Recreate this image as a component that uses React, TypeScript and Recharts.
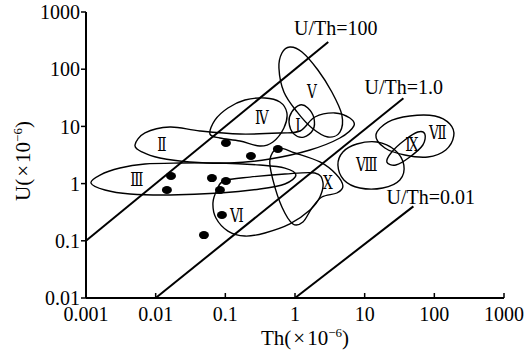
import { ComposedChart, Line, Scatter, XAxis, YAxis } from "recharts";

const SERIF = "'Liberation Serif', 'Times New Roman', serif";
const ROMAN = "'Liberation Serif', 'DejaVu Serif', 'Noto Sans CJK SC', serif";

const xTicks = [0.001, 0.01, 0.1, 1, 10, 100, 1000];
const xTickLabels = ["0.001", "0.01", "0.1", "1", "10", "100", "1000"];
const yTicks = [0.01, 0.1, 1, 10, 100, 1000];
const yTickLabels = ["0.01", "0.1", "1", "10", "100", "1000"];

// measured samples (Th, U in 10^-6)
const sampleTh = [0.0166, 0.0145, 0.0642, 0.102, 0.0837, 0.0894, 0.0493, 0.102, 0.233, 0.568];
const sampleU = [1.36, 0.773, 1.25, 1.11, 0.773, 0.282, 0.126, 5.13, 3.04, 4.03];

// U/Th reference lines, [Th, U] end points
const ratio100 = [[0.001, 0.1], [3, 300]];
const ratio1 = [[0.01, 0.01], [36, 31]];
const ratio001 = [[1, 0.01], [50, 0.4]];
const ratioLabels = ["U/Th=100", "U/Th=1.0", "U/Th=0.01"];
const ratioLabelPos = [[3.86, 525], [36.5, 48.8], [89.1, 0.583]];

// field outlines, [Th, U]
const fieldI = [[1.18, 23.7], [0.9, 17.9], [0.82, 11.9], [0.96, 7.4], [1.34, 6.5], [1.81, 8.7], [1.87, 14], [1.53, 21]];
const fieldII = [[0.00505, 4.73], [0.00702, 7.67], [0.016, 9.76], [0.0432, 8.31], [0.162, 7.36], [0.607, 7.67], [1.18, 8.31], [1.93, 14.6], [3.74, 17.2], [6.13, 14], [7, 10.2], [4.41, 6.27], [1.64, 3.87], [0.436, 2.69], [0.116, 2.29], [0.031, 2.39], [0.0115, 2.8], [0.00636, 3.57]];
const fieldIII = [[0.00118, 1.02], [0.00159, 1.41], [0.00307, 1.87], [0.00702, 2.2], [0.0223, 2.29], [0.0837, 2.29], [0.313, 2.11], [0.716, 1.87], [1.03, 1.41], [0.716, 0.984], [0.313, 0.805], [0.0837, 0.685], [0.016, 0.632], [0.00428, 0.658], [0.00187, 0.773]];
const fieldIV = [[0.0601, 7.36], [0.0709, 12.9], [0.109, 21], [0.191, 28.9], [0.37, 31.4], [0.607, 26.7], [0.765, 17.2], [0.693, 9.38], [0.482, 5.34], [0.313, 4.54], [0.162, 5.56], [0.0837, 6.27]];
const fieldV = [[0.845, 244], [1.26, 200], [2.13, 96.8], [3.38, 39.9], [4.71, 15.8], [4.41, 7.98], [2.97, 6.53], [1.75, 9.38], [1.07, 17.9], [0.693, 39.9], [0.588, 105], [0.649, 192]];
const fieldVI = [[0.0955, 1.11], [0.225, 1.3], [0.716, 1.47], [1.93, 1.53], [2.51, 1.07], [2.28, 0.583], [1.64, 0.345], [0.845, 0.197], [0.37, 0.137], [0.191, 0.121], [0.109, 0.148], [0.0733, 0.25], [0.0664, 0.458], [0.0758, 0.773]];
const fieldVII = [[14.5, 7.07], [21.5, 11.9], [44.5, 15.2], [102, 15.2], [167, 11], [190, 6.8], [146, 3.87], [80.7, 2.92], [37.7, 3.16], [19.5, 4.19]];
const fieldVIII = [[4.13, 2.11], [4.87, 3.57], [7.73, 4.92], [15, 5.34], [27.1, 3.87], [36.5, 2.11], [32, 1.16], [18.2, 0.838], [8.53, 0.838], [5.03, 1.16]];
const fieldIX = [[20.8, 2.39], [24.5, 3.57], [37.7, 5.78], [57.9, 7.98], [73.1, 7.36], [68.4, 4.73], [44.5, 2.92], [28, 2.11]];
const fieldX = [[0.568, 4.19], [1, 3.43], [2.28, 2.39], [3.86, 1.47], [4.87, 0.908], [3.99, 0.685], [2.43, 0.583], [1.75, 0.374], [1.3, 0.213], [0.933, 0.197], [0.649, 0.39], [0.482, 1.16], [0.436, 2.59]];

const fieldNames = ["Ⅰ", "Ⅱ", "Ⅲ", "Ⅳ", "Ⅴ", "Ⅵ", "Ⅶ", "Ⅷ", "Ⅸ", "Ⅹ"];
const fieldLabelPos = [[1.1, 10.2], [0.0123, 4.73], [0.00539, 1.16], [0.335, 14], [1.75, 39.9], [0.147, 0.271], [112, 7.67], [10.75, 2.11], [47.5, 4.73], [2.97, 1.02]];

const fields = [fieldI, fieldII, fieldIII, fieldIV, fieldV, fieldVI, fieldVII, fieldVIII, fieldIX, fieldX];
const ratios = [ratio100, ratio1, ratio001];

const rows = (pts: number[][]) => pts.map(([th, u]) => ({ th, u }));
const samples = sampleTh.map((th, i) => ({ th, u: sampleU[i] }));
const fieldLabels = fieldLabelPos.map(([th, u], i) => ({ th, u, text: fieldNames[i] }));
const ratioText = ratioLabelPos.map(([th, u], i) => ({ th, u, text: ratioLabels[i] }));

// closed Catmull-Rom curve for the field outlines
function closedSmooth(context: any) {
  let pts: number[][] = [];
  return {
    areaStart() {},
    areaEnd() {},
    lineStart() {
      pts = [];
    },
    point(x: number, y: number) {
      pts.push([+x, +y]);
    },
    lineEnd() {
      const n = pts.length;
      if (!n) return;
      context.moveTo(pts[0][0], pts[0][1]);
      for (let i = 0; i < n; i++) {
        const p0 = pts[(i - 1 + n) % n];
        const p1 = pts[i];
        const p2 = pts[(i + 1) % n];
        const p3 = pts[(i + 2) % n];
        context.bezierCurveTo(
          p1[0] + (p2[0] - p0[0]) / 6,
          p1[1] + (p2[1] - p0[1]) / 6,
          p2[0] - (p3[0] - p1[0]) / 6,
          p2[1] - (p3[1] - p1[1]) / 6,
          p2[0],
          p2[1]
        );
      }
      context.closePath();
    },
  };
}

const tickStyle = { fill: "#000", fontSize: 20, fontFamily: SERIF };

export default function App() {
  return (
    <div style={{ width: 527, height: 351 }}>
      <style>{"body{margin:0}"}</style>
      <ComposedChart
        width={527}
        height={351}
        margin={{ top: 12, right: 23, bottom: 23, left: 0 }}
      >
        <XAxis
          dataKey="th"
          type="number"
          scale="log"
          domain={[0.001, 1000]}
          ticks={xTicks}
          tickFormatter={(v: number) => xTickLabels[xTicks.indexOf(v)]}
          tick={tickStyle}
          tickSize={-5}
          tickMargin={14}
          height={30}
          axisLine={{ stroke: "#000", strokeWidth: 2 }}
          tickLine={{ stroke: "#000", strokeWidth: 1.5 }}
        />
        <YAxis
          dataKey="u"
          type="number"
          scale="log"
          domain={[0.01, 1000]}
          ticks={yTicks}
          tickFormatter={(v: number) => yTickLabels[yTicks.indexOf(v)]}
          tick={tickStyle}
          tickSize={5}
          tickMargin={1}
          width={86}
          axisLine={{ stroke: "#000", strokeWidth: 2 }}
          tickLine={{ stroke: "#000", strokeWidth: 1.5 }}
        />
        {ratios.map((r, i) => (
          <Line
            key={"r" + i}
            data={rows(r)}
            dataKey="u"
            type="linear"
            stroke="#000"
            strokeWidth={2}
            dot={false}
            activeDot={false}
            isAnimationActive={false}
          />
        ))}
        {fields.map((f, i) => (
          <Line
            key={"f" + i}
            data={rows(f)}
            dataKey="u"
            type={closedSmooth as any}
            stroke="#000"
            strokeWidth={1.4}
            dot={false}
            activeDot={false}
            isAnimationActive={false}
          />
        ))}
        <Scatter
          data={samples}
          isAnimationActive={false}
          shape={(p: any) => <ellipse cx={p.cx} cy={p.cy} rx={5} ry={4} fill="#000" />}
        />
        <Scatter
          data={fieldLabels}
          isAnimationActive={false}
          shape={(p: any) => (
            <text
              transform={`translate(${p.cx},${p.cy}) scale(0.72,1)`}
              textAnchor="middle"
              dominantBaseline="central"
              fontSize={19}
              fontFamily={ROMAN}
              fill="#000"
            >
              {p.payload.text}
            </text>
          )}
        />
        <Scatter
          data={ratioText}
          isAnimationActive={false}
          shape={(p: any) => (
            <text x={p.cx} y={p.cy} textAnchor="middle" dominantBaseline="central" fontSize={20} fontFamily={SERIF} fill="#000">
              {p.payload.text}
            </text>
          )}
        />
        <text x={305} y={345} textAnchor="middle" fontSize={21} fontFamily={SERIF} fill="#000">
          Th(<tspan dx={2}>×</tspan>
          <tspan dx={2}>10</tspan>
          <tspan dy={-8} fontSize={13}>−6</tspan>
          <tspan dy={8}>)</tspan>
        </text>
        <text transform="translate(30,161) rotate(-90)" textAnchor="middle" fontSize={21} fontFamily={SERIF} fill="#000">
          U(<tspan dx={2}>×</tspan>
          <tspan dx={2}>10</tspan>
          <tspan dy={-8} fontSize={13}>−6</tspan>
          <tspan dy={8}>)</tspan>
        </text>
      </ComposedChart>
    </div>
  );
}
